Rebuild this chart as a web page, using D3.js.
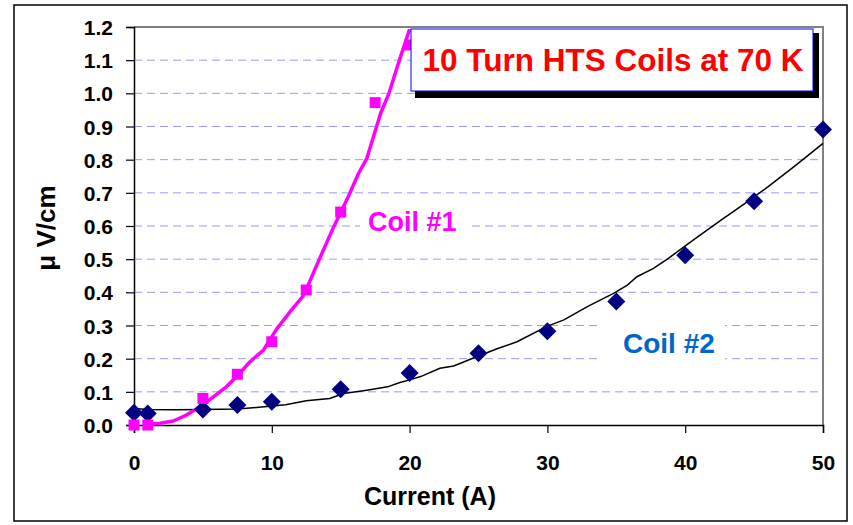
<!DOCTYPE html>
<html lang="en">
<head>
<meta charset="utf-8">
<script src="https://d3js.org/d3.v7.min.js"></script>
<style type="text/css">
body {
	margin: 0;
	background: #ffffff;
}
text {
	font-family: Arial, "Liberation Sans", sans-serif;
	font-weight: bold;
}
</style>
</head>
<body>
<script type="text/javascript">

// Measured points
var coil1Current = [0, 1, 5, 7.5, 10, 12.5, 15, 17.5, 20];
var coil1Voltage = [0.0, 0.0, 0.08, 0.153, 0.251, 0.407, 0.642, 0.972, 1.146];

var coil2Current = [0, 1, 5, 7.5, 10, 15, 20, 25, 30, 35, 40, 45, 50];
var coil2Voltage = [0.037, 0.035, 0.047, 0.06, 0.07, 0.108, 0.157, 0.216, 0.283, 0.372, 0.512, 0.675, 0.891];

// Trend lines
var fit1Current = [1, 1.9, 2.85, 3.8, 4.8, 5.76, 6.7, 7.46, 8.4, 9.4, 10.36, 11.3, 12.3, 12.8, 13.45, 14.5, 15.6, 16.3, 16.9, 17.9, 18.5, 19.3, 20];
var fit1Voltage = [0.002, 0.005, 0.012, 0.03, 0.055, 0.085, 0.115, 0.146, 0.19, 0.226, 0.29, 0.34, 0.39, 0.437, 0.5, 0.598, 0.693, 0.759, 0.804, 0.94, 1.0, 1.105, 1.193];

var fit2Current = [0, 1, 3, 5, 7.5, 10, 11, 12.5, 14.2, 15.2, 16.9, 18.4, 19.3, 20, 20.8, 22.2, 23.2, 25, 26.3, 27.8, 30, 31.2, 32.9, 34.8, 35.8, 36.5, 37.7, 38.7, 40.6, 42.6, 44.5, 46, 47.9, 50];
var fit2Voltage = [0.05, 0.047, 0.046, 0.047, 0.048, 0.057, 0.061, 0.073, 0.08, 0.095, 0.105, 0.115, 0.128, 0.136, 0.146, 0.171, 0.178, 0.208, 0.229, 0.251, 0.298, 0.317, 0.357, 0.397, 0.422, 0.447, 0.472, 0.5, 0.558, 0.618, 0.673, 0.718, 0.779, 0.849];

var xTicks = [0, 10, 20, 30, 40, 50];
var yTicks = [0, 0.1, 0.2, 0.3, 0.4, 0.5, 0.6, 0.7, 0.8, 0.9, 1.0, 1.1, 1.2];

var chartTitle = "10 Turn HTS Coils at 70 K";
var xTitle = "Current (A)";
var yTitle = "\u03bc V/cm";
var label1 = "Coil #1";
var label2 = "Coil #2";

var width = 853;
var height = 525;
var margin = {top: 27, right: 30, bottom: 100, left: 134};

var svg = d3.select("body")
	.append("svg")
	.attr("width", width)
	.attr("height", height);

var x = d3.scaleLinear()
	.domain([0, 50])
	.range([margin.left, width - margin.right]);

var y = d3.scaleLinear()
	.domain([0, 1.2])
	.range([height - margin.bottom, margin.top]);

// outer frame
svg.append("rect")
	.attr("x", 14)
	.attr("y", 5)
	.attr("width", 833)
	.attr("height", 516)
	.style("fill", "none")
	.style("stroke", "#000")
	.style("stroke-width", 1.5);

// grid
svg.append("g")
	.selectAll("line")
	.data(yTicks.slice(1, -1))
	.enter()
	.append("line")
	.attr("x1", x(0))
	.attr("x2", x(50))
	.attr("y1", function(d) { return y(d); })
	.attr("y2", function(d) { return y(d); })
	.style("stroke", "#9999ff")
	.style("stroke-width", 1)
	.style("stroke-dasharray", "8,5");

// top and right border of plot area
svg.append("path")
	.attr("d", "M" + x(0) + "," + y(1.2) + "H" + x(50) + "V" + y(0))
	.style("fill", "none")
	.style("stroke", "#808080")
	.style("stroke-width", 2);

// axes
var xAxis = svg.append("g")
	.attr("transform", "translate(0," + y(0) + ")")
	.call(d3.axisBottom(x).tickValues(xTicks).tickSize(8).tickPadding(22).tickFormat(d3.format("d")));

var yAxis = svg.append("g")
	.attr("transform", "translate(" + x(0) + ",0)")
	.call(d3.axisLeft(y).tickValues(yTicks).tickSize(8).tickPadding(13).tickFormat(d3.format(".1f")));

[xAxis, yAxis].forEach(function(ax) {
	ax.select(".domain").style("stroke", "#000").style("stroke-width", 1.5);
	ax.selectAll(".tick line").style("stroke", "#000").style("stroke-width", 1.2);
	ax.selectAll(".tick text")
		.style("font-family", "Arial, 'Liberation Sans', sans-serif")
		.style("font-weight", "bold")
		.style("font-size", "21px")
		.style("fill", "#000");
});
xAxis.selectAll(".tick text").attr("dy", "0.7em");
yAxis.selectAll(".tick text").attr("dy", "0.36em");

// axis titles
svg.append("text")
	.attr("x", 430)
	.attr("y", 505)
	.attr("text-anchor", "middle")
	.style("font-size", "25px")
	.text(xTitle);

svg.append("text")
	.attr("transform", "translate(55,228) rotate(-90)")
	.attr("text-anchor", "middle")
	.style("font-size", "26px")
	.text(yTitle);

// series labels with white backgrounds
svg.append("rect")
	.attr("x", 360).attr("y", 203).attr("width", 108).attr("height", 42)
	.style("fill", "#fff");
svg.append("text")
	.attr("x", 368)
	.attr("y", 231)
	.style("font-size", "27px")
	.style("fill", "#ff00ff")
	.text(label1);

svg.append("rect")
	.attr("x", 598).attr("y", 318).attr("width", 127).attr("height", 44)
	.style("fill", "#fff");
svg.append("text")
	.attr("x", 623)
	.attr("y", 353)
	.style("font-size", "28px")
	.style("fill", "#0066cc")
	.text(label2);

// trend lines
var line = d3.line()
	.x(function(d) { return x(d[0]); })
	.y(function(d) { return y(d[1]); });

svg.append("path")
	.datum(d3.zip(fit2Current, fit2Voltage))
	.attr("d", line)
	.style("fill", "none")
	.style("stroke", "#000")
	.style("stroke-width", 1.5);

svg.append("path")
	.datum(d3.zip(fit1Current, fit1Voltage))
	.attr("d", line)
	.style("fill", "none")
	.style("stroke", "#ff00ff")
	.style("stroke-width", 3.5)
	.style("stroke-linejoin", "round");

// markers
svg.append("g")
	.selectAll("path")
	.data(d3.zip(coil2Current, coil2Voltage))
	.enter()
	.append("path")
	.attr("transform", function(d) { return "translate(" + x(d[0]) + "," + y(d[1]) + ")"; })
	.attr("d", "M0,-9L9,0L0,9L-9,0Z")
	.style("fill", "#000080");

svg.append("g")
	.selectAll("rect")
	.data(d3.zip(coil1Current, coil1Voltage))
	.enter()
	.append("rect")
	.attr("x", function(d) { return x(d[0]) - 5.5; })
	.attr("y", function(d) { return y(d[1]) - 5.5; })
	.attr("width", 11)
	.attr("height", 11)
	.style("fill", "#ff00ff");

// title box with shadow
svg.append("rect")
	.attr("x", 415).attr("y", 33).attr("width", 404).attr("height", 65)
	.style("fill", "#000");
svg.append("rect")
	.attr("x", 411).attr("y", 29).attr("width", 402).attr("height", 62)
	.style("fill", "#fff")
	.style("stroke", "#0000ff")
	.style("stroke-width", 1);
svg.append("text")
	.attr("x", 613)
	.attr("y", 71)
	.attr("text-anchor", "middle")
	.style("font-size", "31.5px")
	.style("fill", "#ff0000")
	.text(chartTitle);

</script>
</body>
</html>
